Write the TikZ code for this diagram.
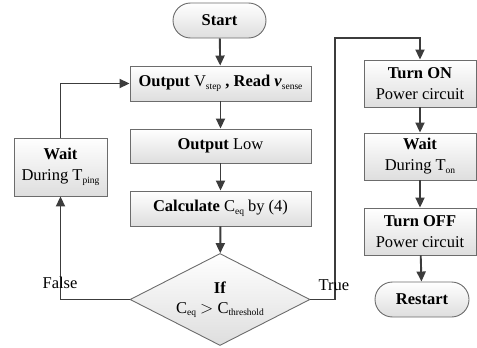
\documentclass[tikz,border=0pt]{standalone}
\usepackage{fontspec}
\setmainfont{Liberation Serif}
\usetikzlibrary{shapes.geometric,shapes.misc,arrows.meta}
\newcommand\sbs[1]{\raisebox{-2.5pt}{\fontsize{9.5}{10}\selectfont\mdseries\upshape #1}}
\definecolor{edgecol}{HTML}{3c3c3c}
\definecolor{boxline}{HTML}{6c6c6c}
\tikzset{
  box/.style={draw=boxline, line width=0.9pt, top color=white, bottom color=black!13,
    align=center, inner sep=2pt, font=\fontsize{16.5}{21}\selectfont},
  procbox/.style={box, rectangle},
  termbox/.style={box, rounded rectangle},
  decbox/.style={box, diamond, shape aspect=2, inner sep=0pt},
  conn/.style={draw=edgecol, line width=1.9pt, -{Triangle[length=10pt,width=9pt]}},
  lbl/.style={font=\fontsize{16.5}{20}\selectfont, text=black}
}
\begin{document}
\begin{tikzpicture}[x=1pt,y=-1pt]
\useasboundingbox (0,0) rectangle (477,348);
\node[termbox, minimum width=97pt, minimum height=35pt] (start) at (219.5,20.5) {\textbf{Start}};
\node[procbox, minimum width=181pt, minimum height=35pt] (out1) at (220.5,83.5)
  {\textbf{Output} V\sbs{step} \textbf{, Read} \textbf{\textit{v}}\sbs{sense}};
\node[procbox, minimum width=181pt, minimum height=34pt] (out2) at (220.5,146) {\textbf{Output} Low};
\node[procbox, minimum width=181pt, minimum height=35pt] (calc) at (220.5,208.5) {\textbf{Calculate} C\sbs{eq} by (4)};
\node[decbox, minimum width=180pt, minimum height=92pt] (dec) at (220,299.5)
  {\textbf{If}\\[-1pt] C\sbs{eq} $>$ C\sbs{threshold}};
\node[procbox, minimum width=93pt, minimum height=58pt] (wait1) at (60.5,167) {\textbf{Wait}\\During T\sbs{ping}};
\node[procbox, minimum width=112pt, minimum height=47pt] (on) at (420,83.5) {\textbf{Turn ON}\\Power circuit};
\node[procbox, minimum width=112pt, minimum height=47pt] (wait2) at (420,156.5) {\textbf{Wait}\\During T\sbs{on}};
\node[procbox, minimum width=112pt, minimum height=47pt] (off) at (420,231.5) {\textbf{Turn OFF}\\Power circuit};
\node[termbox, minimum width=98pt, minimum height=35pt] (restart) at (422,299.5) {\textbf{Restart}};
\coordinate (tc) at (335,38);
\draw[conn] (start) -- (out1);
\draw[conn] (out1) -- (out2);
\draw[conn] (out2) -- (calc);
\draw[conn] (calc) -- (dec);
\draw[conn] (dec.west) -| (wait1.south);
\draw[conn] (wait1.north) |- (out1.west);
\draw[conn] (dec.east) -| (tc) -| (on.north);
\draw[conn] (on) -- (wait2);
\draw[conn] (wait2) -- (off);
\draw[conn] (off) -- (restart);
\node[lbl] (lfalse) at (60,283) {False};
\node[lbl] (ltrue) at (334,285) {True};
\end{tikzpicture}
\end{document}
